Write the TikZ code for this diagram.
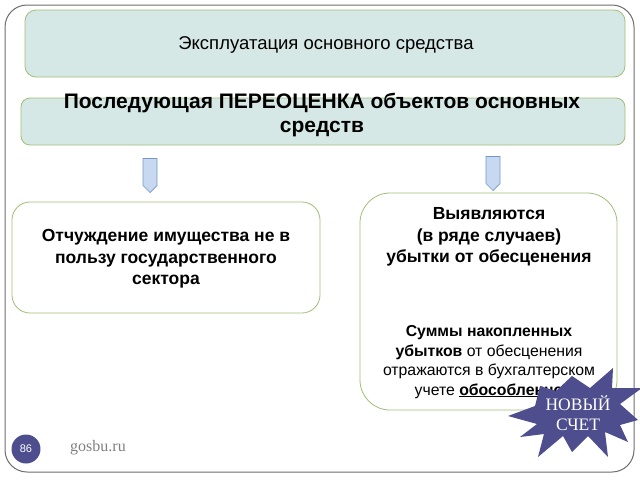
\documentclass[tikz,border=0pt]{standalone}
\usepackage{fontspec}
\setmainfont{Liberation Sans}
\newfontfamily\serifrm{Liberation Serif}
\usetikzlibrary{shapes.arrows}
\definecolor{boxfill}{RGB}{214,232,229}
\definecolor{boxline}{RGB}{160,190,120}
\definecolor{arrfill}{RGB}{198,217,241}
\definecolor{arrline}{RGB}{120,150,200}
\definecolor{starcol}{RGB}{78,78,142}
\definecolor{framecol}{RGB}{110,110,110}
\tikzset{
  frame/.style={draw=framecol, line width=1pt, rounded corners=22pt},
  tealbox/.style={fill=boxfill, draw=boxline, line width=0.8pt, rounded corners=11pt},
  whitebox/.style={fill=white, draw=boxline, line width=0.8pt},
  downarrow/.style={single arrow, shape border rotate=270, fill=arrfill, draw=arrline, line width=0.7pt,
    minimum width=14pt, minimum height=34pt, inner sep=0pt, single arrow head extend=0pt, single arrow tip angle=90,
    single arrow head indent=0pt, text width=6.5pt},
  txt/.style={align=center, inner sep=0pt}
}
\begin{document}
\begin{tikzpicture}[x=1pt,y=-1pt]
\useasboundingbox (0,0) rectangle (640,480);
\fill[white] (0,0) rectangle (640,480);
% outer frame
\draw[frame] (5,5) rectangle (634,472);
% top boxes
\draw[tealbox] (25,10) rectangle (625,77);
\node[txt, font=\fontsize{18.5}{22}\selectfont] (t1) at (326,45) {Эксплуатация основного средства};
\draw[tealbox, rounded corners=9pt] (21,98) rectangle (625,145);
\node[txt, font=\fontsize{21}{24.5}\selectfont\bfseries] (t2) at (322,115) {Последующая ПЕРЕОЦЕНКА объектов основных\\средств};
% arrows
\node[downarrow] (a1) at (150,172) {};
\node[downarrow] (a2) at (493,170) {};
% left box
\draw[whitebox, rounded corners=18pt] (12,202) rectangle (320,313);
\node[txt, font=\fontsize{17.5}{21.5}\selectfont\bfseries] (lt) at (166,259) {Отчуждение имущества не в\\пользу государственного\\сектора};
% right box
\draw[whitebox, rounded corners=30pt] (360,193) rectangle (617,410);
\node[txt, font=\fontsize{17.5}{21.5}\selectfont\bfseries] (rt) at (489,237) {Выявляются\\(в ряде случаев)\\убытки от обесценения};
\node[txt, font=\fontsize{15.8}{19.5}\selectfont] (rb) at (489,362) {\textbf{Суммы накопленных}\\\textbf{убытков} от обесценения\\отражаются в бухгалтерском\\учете \textbf{\underline{обособленно}}};
% starburst
\fill[starcol]
  (508,416) -- (535,406) -- (540,386) -- (556,391) -- (572,376) -- (590,388)
  -- (613,368) -- (612,388) -- (642,388) -- (620,404) -- (638,420) -- (620,425)
  -- (628,442) -- (605,432) -- (608,457) -- (588,436) -- (572,452) -- (563,436)
  -- (538,457) -- (544,434) -- (520,437) -- (537,424) -- cycle;
\node[txt, text=white, font=\serifrm\fontsize{17.5}{20}\selectfont] (nw) at (578,413) {НОВЫЙ\\СЧЕТ};
% footer
\node[circle, fill=starcol, minimum size=29pt, inner sep=0pt, text=white, font=\fontsize{11}{12}\selectfont] (pg) at (26,449) {86};
\node[txt, text=gray, font=\serifrm\fontsize{16}{18}\selectfont] (gs) at (98,448) {gosbu.ru};
\end{tikzpicture}
\end{document}
